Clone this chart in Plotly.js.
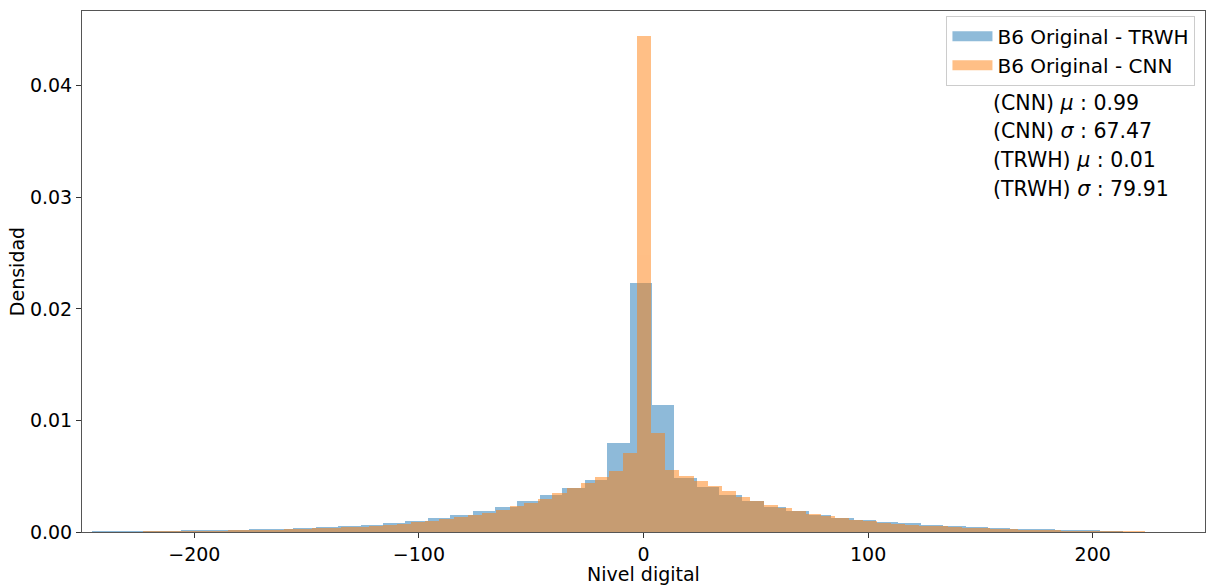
<!DOCTYPE html>
<html>
<head>
<meta charset="utf-8">
<script src="https://cdn.plot.ly/plotly-3.0.1.min.js"></script>
<style>
  html, body { margin: 0; padding: 0; background: #ffffff; }
  #chart { width: 1208px; height: 585px; }
</style>
</head>
<body>
<div id="chart"></div>
<script>
// ---- Data (density per bin) ----
const seriesNames = ["B6 Original - TRWH", "B6 Original - CNN"];

// TRWH histogram: first bin left edge and bin width (digital level units)
const trwhBinStart = -245.7;
const trwhBinWidth = 9.978;
const trwhDensity = [
  0.00005, 0.00009, 0.00010, 0.00012, 0.00014, 0.00018, 0.00021, 0.00027,
  0.00030, 0.00036, 0.00042, 0.00054, 0.00066, 0.00083, 0.00101, 0.00122,
  0.00152, 0.00188, 0.00227, 0.00280, 0.00331, 0.00394, 0.00466, 0.00797,
  0.02236, 0.01140, 0.00484, 0.00403, 0.00334, 0.00280, 0.00227, 0.00191,
  0.00155, 0.00128, 0.00104, 0.00090, 0.00077, 0.00059, 0.00050, 0.00042,
  0.00036, 0.00030, 0.00026, 0.00021, 0.00017, 0.00005, 0.00003, 0.00002
];

// CNN histogram
const cnnBinStart = -235.4;
const cnnBinWidth = 6.285;
const cnnDensity = [
  0.00003, 0.00004, 0.00005, 0.00006, 0.00007, 0.00008, 0.00010, 0.00012,
  0.00014, 0.00016, 0.00019, 0.00022, 0.00025, 0.00029, 0.00033, 0.00038,
  0.00043, 0.00048, 0.00055, 0.00063, 0.00074, 0.00086, 0.00098, 0.00119,
  0.00131, 0.00149, 0.00173, 0.00200, 0.00229, 0.00262, 0.00298, 0.00346,
  0.00394, 0.00439, 0.00493, 0.00543, 0.00707, 0.04448, 0.00887, 0.00555,
  0.00504, 0.00459, 0.00415, 0.00364, 0.00316, 0.00278, 0.00242, 0.00212,
  0.00191, 0.00164, 0.00140, 0.00122, 0.00107, 0.00098, 0.00083, 0.00070,
  0.00064, 0.00057, 0.00050, 0.00045, 0.00040, 0.00035, 0.00030, 0.00026,
  0.00022, 0.00019, 0.00016, 0.00013, 0.00011, 0.00009, 0.00007, 0.00006,
  0.00005, 0.00004
];

// Statistics shown on the chart
const statLabels = ["(CNN) <i>μ</i>", "(CNN) <i>σ</i>", "(TRWH) <i>μ</i>", "(TRWH) <i>σ</i>"];
const statValues = ["0.99", "67.47", "0.01", "79.91"];

// Axis ticks
const xTickVals = [-200, -100, 0, 100, 200];
const yTickVals = [0.00, 0.01, 0.02, 0.03, 0.04];

// ---- Build traces ----
function centers(start, width, n) {
  const out = [];
  for (let i = 0; i < n; i++) out.push(start + width * (i + 0.5));
  return out;
}

const FONT = "DejaVu Sans, sans-serif";
const colors = ["#1f77b4", "#ff7f0e"];

const traces = [
  {
    type: "bar",
    name: seriesNames[0],
    x: centers(trwhBinStart, trwhBinWidth, trwhDensity.length),
    y: trwhDensity,
    width: trwhBinWidth,
    marker: { color: colors[0], line: { width: 0 } },
    opacity: 0.5,
    showlegend: false
  },
  {
    type: "bar",
    name: seriesNames[1],
    x: centers(cnnBinStart, cnnBinWidth, cnnDensity.length),
    y: cnnDensity,
    width: cnnBinWidth,
    marker: { color: colors[1], line: { width: 0 } },
    opacity: 0.5,
    showlegend: false
  },
  // legend entries drawn as wide patches (matplotlib style)
  {
    type: "scatter", mode: "lines", name: seriesNames[0],
    x: [null], y: [null],
    line: { color: colors[0], width: 15 }, opacity: 0.5,
    hoverinfo: "skip"
  },
  {
    type: "scatter", mode: "lines", name: seriesNames[1],
    x: [null], y: [null],
    line: { color: colors[1], width: 15 }, opacity: 0.5,
    hoverinfo: "skip"
  }
];

const statY = [0.823, 0.770, 0.714, 0.658];
const annotations = statLabels.map((lab, i) => ({
  xref: "paper", yref: "paper",
  x: 0.8095, y: statY[i],
  xanchor: "left", yanchor: "middle",
  text: lab + " : " + statValues[i],
  showarrow: false,
  font: { family: FONT, size: 20.5, color: "#000" }
}));

const layout = {
  width: 1208,
  height: 585,
  margin: { l: 82, r: 3, t: 11, b: 53 },
  paper_bgcolor: "#ffffff",
  plot_bgcolor: "#ffffff",
  barmode: "overlay",
  bargap: 0,
  font: { family: FONT, size: 19, color: "#000" },
  xaxis: {
    range: [-250, 250],
    tickvals: xTickVals,
    ticks: "outside",
    ticklen: 5,
    tickwidth: 1,
    tickcolor: "#333",
    showgrid: false,
    zeroline: false,
    showline: true,
    linecolor: "#555",
    linewidth: 1,
    mirror: true,
    tickfont: { family: FONT, size: 19, color: "#000" },
    title: { text: "Nivel digital", font: { family: FONT, size: 19, color: "#000" }, standoff: 3 }
  },
  yaxis: {
    range: [0, 0.0467],
    tickvals: yTickVals,
    tickformat: ".2f",
    ticks: "outside",
    ticklen: 5,
    tickwidth: 1,
    tickcolor: "#333",
    showgrid: false,
    zeroline: false,
    showline: true,
    linecolor: "#555",
    linewidth: 1,
    mirror: true,
    tickfont: { family: FONT, size: 19, color: "#000" },
    title: { text: "Densidad", font: { family: FONT, size: 19, color: "#000" }, standoff: 0 }
  },
  legend: {
    x: 0.9915, y: 0.991,
    xanchor: "right", yanchor: "top",
    bgcolor: "rgba(255,255,255,0.8)",
    bordercolor: "#cccccc",
    borderwidth: 1,
    traceorder: "normal",
    itemwidth: 40,
    font: { family: FONT, size: 20, color: "#000" }
  },
  annotations: annotations
};

Plotly.newPlot("chart", traces, layout, { displayModeBar: false, staticPlot: true });
</script>
</body>
</html>
